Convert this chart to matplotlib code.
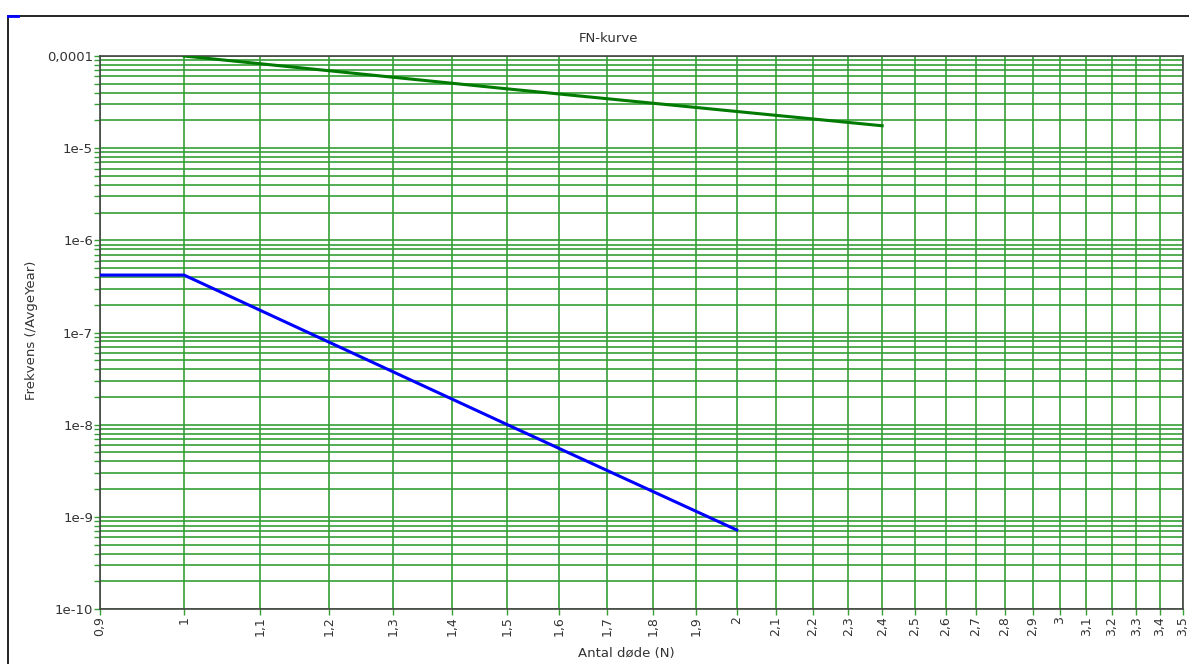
import matplotlib
matplotlib.use("Agg")
import matplotlib.pyplot as plt
from matplotlib.lines import Line2D
from matplotlib.patches import Rectangle
from matplotlib.ticker import FixedLocator, LogLocator, NullFormatter

# data
n_blue = [0.9, 1.0, 1.5, 2.0]
f_blue = [4.2e-7, 4.2e-7, 1.0e-8, 7.2e-10]

n_green = [1.0, 1.5, 2.0, 2.4]
f_green = [1.0e-4, 4.4e-5, 2.5e-5, 1.75e-5]

x_ticks = [0.9, 1.0, 1.1, 1.2, 1.3, 1.4, 1.5, 1.6, 1.7, 1.8, 1.9, 2.0, 2.1, 2.2,
           2.3, 2.4, 2.5, 2.6, 2.7, 2.8, 2.9, 3.0, 3.1, 3.2, 3.3, 3.4, 3.5]
x_labels = ["0,9", "1", "1,1", "1,2", "1,3", "1,4", "1,5", "1,6", "1,7", "1,8", "1,9",
            "2", "2,1", "2,2", "2,3", "2,4", "2,5", "2,6", "2,7", "2,8", "2,9",
            "3", "3,1", "3,2", "3,3", "3,4", "3,5"]
y_ticks = [1e-10, 1e-9, 1e-8, 1e-7, 1e-6, 1e-5, 1e-4]
y_labels = ["1e-10", "1e-9", "1e-8", "1e-7", "1e-6", "1e-5", "0,0001"]

W, H = 1189, 664
fig = plt.figure(figsize=(W / 100, H / 100), dpi=100)
ax = fig.add_axes([100 / W, 1 - 609 / H, (1183 - 100) / W, (609 - 56) / H])

grid_c = "#35a035"
txt_c = "#333333"

ax.set_xscale("log")
ax.set_yscale("log")
ax.set_xlim(0.9, 3.5)
ax.set_ylim(1e-10, 1e-4)

ax.set_xticks(x_ticks)
ax.set_xticklabels(x_labels, rotation=90, fontsize=9, color=txt_c)
ax.xaxis.set_minor_locator(FixedLocator([]))
ax.xaxis.set_minor_formatter(NullFormatter())
ax.set_yticks(y_ticks)
ax.set_yticklabels(y_labels, fontsize=9.5, color=txt_c)
ax.yaxis.set_minor_locator(LogLocator(base=10, subs=[2, 3, 4, 5, 6, 7, 8, 9], numticks=20))
ax.yaxis.set_minor_formatter(NullFormatter())

ax.tick_params(axis="both", which="both", color=grid_c, length=4, width=1, pad=1)

ax.grid(True, which="major", axis="both", color=grid_c, linewidth=1.2)
ax.grid(True, which="minor", axis="y", color=grid_c, linewidth=1.2)
ax.set_axisbelow(True)

for s in ax.spines.values():
    s.set_color("#444444")
    s.set_linewidth(1.2)

ax.plot(n_green, f_green, color="#007a00", linewidth=2.2, zorder=3)
ax.plot(n_blue, f_blue, color="#0000ff", linewidth=2.2, zorder=3)

fig.text(609 / W, 1 - 38 / H, "FN-kurve", ha="center", va="center", fontsize=9.5, color=txt_c)
fig.text(626 / W, 1 - 654 / H, "Antal døde (N)", ha="center", va="center", fontsize=9.5, color=txt_c)
fig.text(32 / W, 1 - 330 / H, "Frekvens (/AvgeYear)", ha="center", va="center",
         rotation=90, fontsize=9.5, color=txt_c)

# outer frame and small marker
fig.add_artist(Rectangle((8 / W, -0.5), 2.0, 1 - 16 / H + 0.5, transform=fig.transFigure,
                         fill=False, edgecolor="black", linewidth=1.2))
fig.add_artist(Line2D([8 / W, 18 / W], [1 - 16 / H, 1 - 16 / H], transform=fig.transFigure,
                      color="#0000ff", linewidth=2))

fig.savefig("out.png", dpi=100)
